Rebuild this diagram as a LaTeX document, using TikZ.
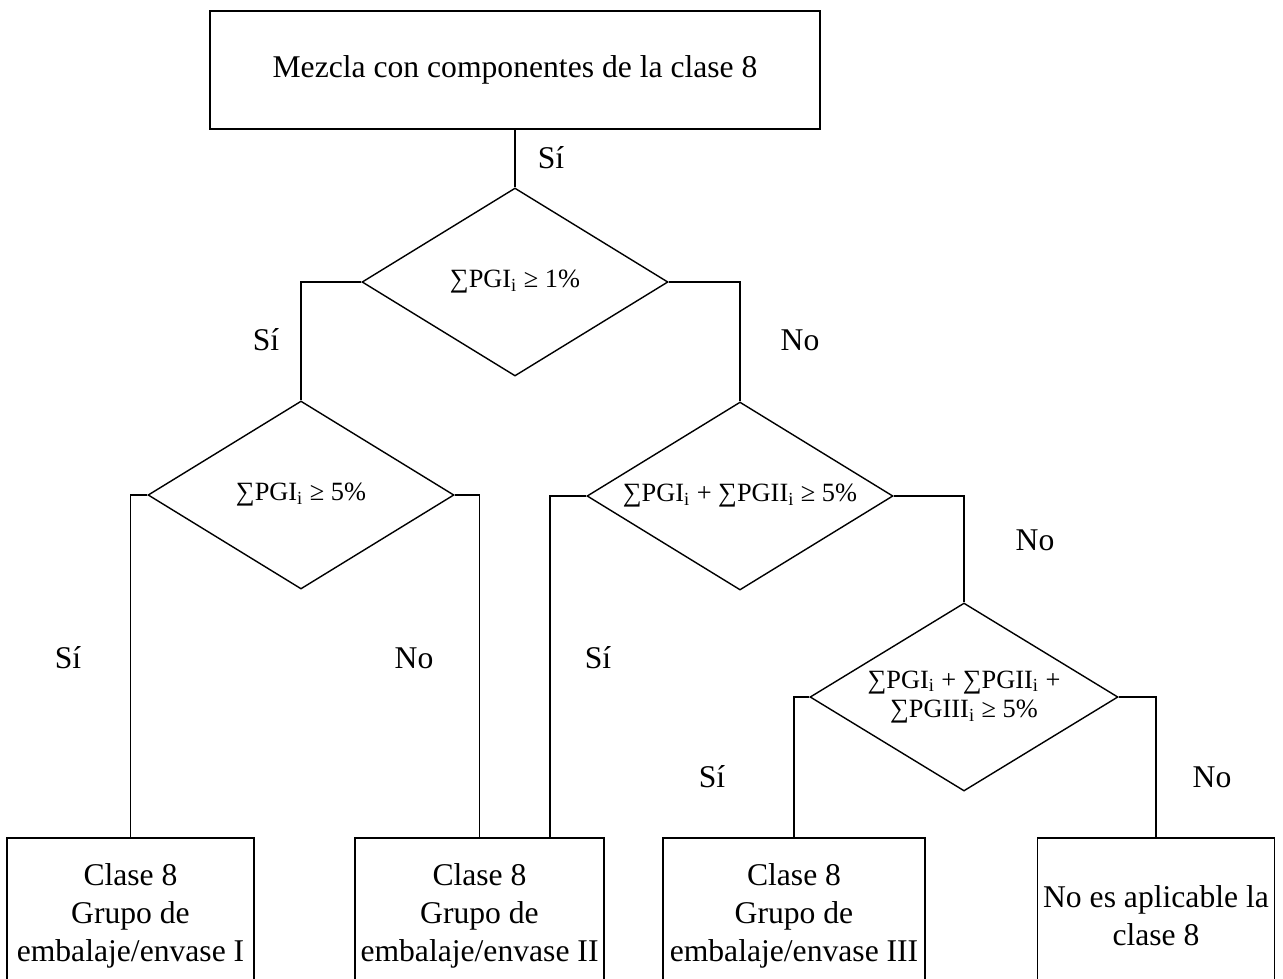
\documentclass[tikz,border=0pt]{standalone}
\usepackage{fontspec}
\setmainfont{Liberation Serif}
\usetikzlibrary{shapes.geometric}
\newcommand{\sbi}{\textsubscript{i}}

\begin{document}
\begin{tikzpicture}[line width=0.8pt,
  box/.style={draw,rectangle,inner sep=0pt,align=center,font=\fontsize{18}{21.5}\selectfont},
  decision/.style={draw,diamond,inner sep=0pt,aspect=1.63,minimum width=6.12cm,minimum height=3.76cm,align=center,font=\fontsize{15}{17}\selectfont},
  lbl/.style={font=\fontsize{18}{20}\selectfont}]
\useasboundingbox (0,0) rectangle (25.66,-19.56);
\clip (0,0) rectangle (25.66,-19.56);
% boxes
\node[box,minimum width=12.2cm,minimum height=2.36cm] (top) at (10.30,-1.40) {Mezcla con componentes de la clase 8};
\node[box,minimum width=4.94cm,minimum height=3.12cm] (b1) at (2.61,-18.32)  {Clase 8\\Grupo de\\embalaje/envase I};
\node[box,minimum width=4.98cm,minimum height=3.12cm] (b2) at (9.59,-18.32)  {Clase 8\\Grupo de\\embalaje/envase II};
\node[box,minimum width=5.24cm,minimum height=3.12cm] (b3) at (15.88,-18.32) {Clase 8\\Grupo de\\embalaje/envase III};
\node[box,minimum width=4.74cm,minimum height=3.12cm] (b4) at (23.12,-18.32) {No es aplicable la\\clase 8};
% decisions
\node[decision] (d1) at (10.30,-5.64)  {∑PGI\sbi{} ≥ 1\%};
\node[decision] (d2) at (6.02,-9.90)   {∑PGI\sbi{} ≥ 5\%};
\node[decision] (d3) at (14.80,-9.92)  {∑PGI\sbi{} + ∑PGII\sbi{} ≥ 5\%};
\node[decision,minimum width=6.16cm] (d4) at (19.28,-13.94) {∑PGI\sbi{} + ∑PGII\sbi{} +\\∑PGIII\sbi{} ≥ 5\%};
% answers
\node[lbl] (s1) at (11.02,-3.16)  {Sí};
\node[lbl] (s2) at (5.32,-6.80)   {Sí};
\node[lbl] (n1) at (16.00,-6.80)  {No};
\node[lbl] (s3) at (1.36,-13.16)  {Sí};
\node[lbl] (n2) at (8.28,-13.16)  {No};
\node[lbl] (s4) at (11.96,-13.16) {Sí};
\node[lbl] (n3) at (20.70,-10.80) {No};
\node[lbl] (s5) at (14.24,-15.54) {Sí};
\node[lbl] (n4) at (24.24,-15.54) {No};
% lines
\draw (top.south -| d1.north) -- (d1.north);
\draw (d1.west) -| (d2.north);
\draw (d1.east) -| (d3.north);
\draw (d2.west) -| (b1.north);
\draw (d2.east) -| (b2.north);
\draw (d3.west) -| ([xshift=1.41cm]b2.north);
\draw (d3.east) -| (d4.north);
\draw (d4.west) -| (b3.north);
\draw (d4.east) -| (b4.north);
\end{tikzpicture}
\end{document}
